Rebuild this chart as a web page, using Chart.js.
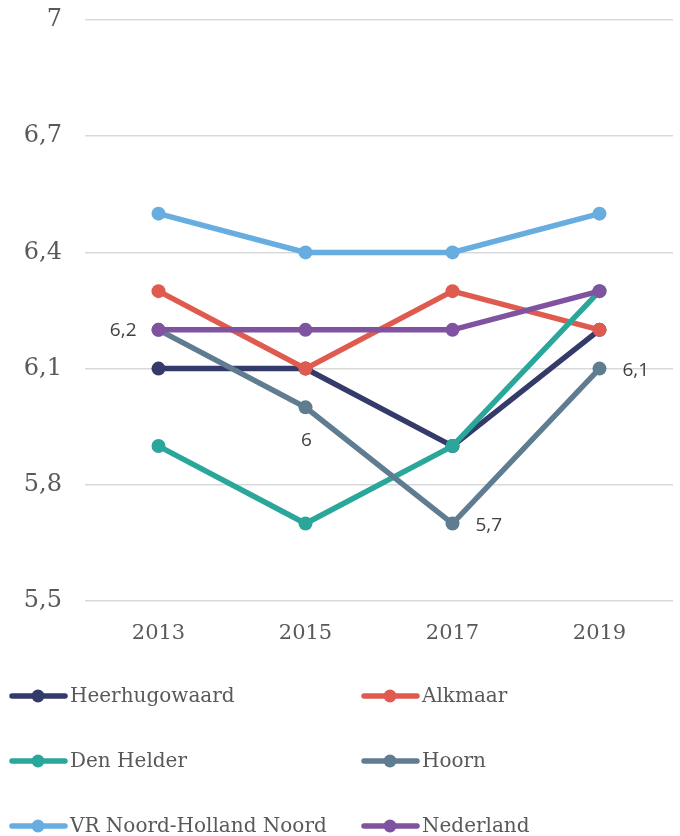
<!DOCTYPE html>
<html>
<head>
<meta charset="utf-8">
<script src="https://cdn.jsdelivr.net/npm/chart.js@4"></script>
<style>
html,body{margin:0;padding:0;background:#fff;}
#wrap{width:680px;height:836px;position:relative;}
</style>
</head>
<body>
<div id="wrap"><canvas id="c" width="680" height="836"></canvas></div>
<script>
const years = ['2013', '2015', '2017', '2019'];
const seriesNames = ['Heerhugowaard', 'Alkmaar', 'Den Helder', 'Hoorn', 'VR Noord-Holland Noord', 'Nederland'];
const heerhugowaard = [6.1, 6.1, 5.9, 6.2];
const alkmaar = [6.3, 6.1, 6.3, 6.2];
const denHelder = [5.9, 5.7, 5.9, 6.3];
const hoorn = [6.2, 6.0, 5.7, 6.1];
const vrNHN = [6.5, 6.4, 6.4, 6.5];
const nederland = [6.2, 6.2, 6.2, 6.3];
const yTicks = [5.5, 5.8, 6.1, 6.4, 6.7, 7];
const colors = ['#343a6a', '#df5b4f', '#2aa79a', '#5f7c91', '#67ade0', '#7f53a0'];
const seriesValues = [heerhugowaard, alkmaar, denHelder, hoorn, vrNHN, nederland];
const labelledSeries = 3; // Hoorn

const fmt = v => String(v).replace('.', ',');

const datasets = seriesValues.map((vals, i) => ({
  label: seriesNames[i],
  data: vals,
  borderColor: colors[i],
  backgroundColor: colors[i],
  pointBackgroundColor: colors[i],
  pointBorderColor: colors[i],
  borderWidth: 5.5,
  pointRadius: 7,
  pointBorderWidth: 0,
  pointHoverRadius: 7,
  tension: 0,
  order: seriesValues.length - i
}));

const labelPlugin = {
  id: 'hoornLabels',
  afterDatasetsDraw(chart) {
    const ctx = chart.ctx;
    const meta = chart.getDatasetMeta(labelledSeries);
    const placement = ['left', 'below', 'right', 'right'];
    ctx.save();
    ctx.font = '19px "Open Sans", "Noto Sans", sans-serif';
    ctx.fillStyle = '#404040';
    meta.data.forEach((pt, j) => {
      const txt = fmt(seriesValues[labelledSeries][j]);
      const p = placement[j];
      ctx.textBaseline = 'middle';
      if (p === 'left') { ctx.textAlign = 'right'; ctx.fillText(txt, pt.x - 22, pt.y + 1); }
      else if (p === 'right') { ctx.textAlign = 'left'; ctx.fillText(txt, pt.x + 23, pt.y + 2); }
      else { ctx.textAlign = 'center'; ctx.fillText(txt, pt.x + 1, pt.y + 33); }
    });
    ctx.restore();
  }
};

const legendPlugin = {
  id: 'lineLegend',
  afterDraw(chart) {
    const ctx = chart.ctx;
    const colX = [10, 362];
    const rowY = [696, 761, 826];
    ctx.save();
    ctx.font = '20px "DejaVu Serif", serif';
    ctx.textBaseline = 'middle';
    ctx.textAlign = 'left';
    chart.data.datasets.forEach((ds, i) => {
      const x = colX[i % 2];
      const y = rowY[Math.floor(i / 2)];
      ctx.strokeStyle = ds.borderColor;
      ctx.lineWidth = 5.5;
      ctx.lineCap = 'round';
      ctx.beginPath();
      ctx.moveTo(x + 2, y);
      ctx.lineTo(x + 55, y);
      ctx.stroke();
      ctx.fillStyle = ds.borderColor;
      ctx.beginPath();
      ctx.arc(x + 28, y, 6.5, 0, Math.PI * 2);
      ctx.fill();
      ctx.fillStyle = '#595959';
      ctx.fillText(ds.label, x + 60, y + 1);
    });
    ctx.restore();
  }
};

new Chart(document.getElementById('c'), {
  type: 'line',
  data: { labels: years, datasets },
  options: {
    responsive: false,
    animation: false,
    layout: { padding: { top: 20, right: 6, left: 0, bottom: 0 } },
    plugins: { legend: { display: false }, tooltip: { enabled: false } },
    scales: {
      x: {
        offset: true,
        grid: { display: false, drawTicks: false },
        border: { display: false },
        ticks: { color: '#595959', font: { family: '"DejaVu Serif", serif', size: 21 }, padding: 20 },
        afterFit: s => { s.height = 235; s.paddingLeft = 0; s.paddingRight = 0; }
      },
      y: {
        min: 5.5,
        max: 7,
        afterBuildTicks: s => { s.ticks = yTicks.map(v => ({ value: v })); },
        grid: { color: '#d9d9d9', lineWidth: 1.5, drawTicks: false },
        border: { display: false },
        ticks: {
          color: '#595959',
          font: { family: '"DejaVu Serif", serif', size: 24 },
          padding: 23,
          callback: v => fmt(Math.round(v * 10) / 10)
        },
        afterFit: s => { s.width = 85; s.paddingTop = 0; s.paddingBottom = 0; }
      }
    }
  },
  plugins: [labelPlugin, legendPlugin]
});
</script>
</body>
</html>
